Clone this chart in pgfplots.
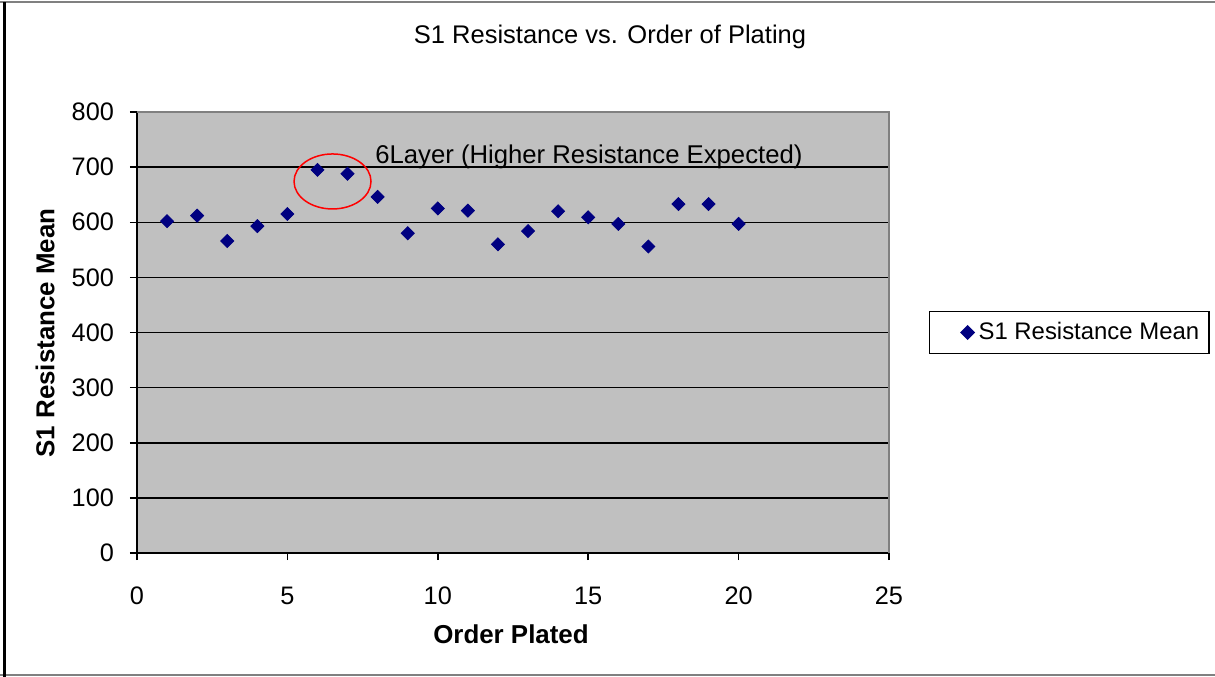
\documentclass[border=0pt]{standalone}
\usepackage{pgfplots}
\pgfplotsset{compat=1.18}
\usepackage{fontspec}
\setmainfont{Liberation Sans}
\definecolor{navy}{RGB}{0,0,128}
\definecolor{plotgray}{RGB}{192,192,192}
\definecolor{edgegray}{RGB}{128,128,128}
\begin{document}
\begin{tikzpicture}
\path[use as bounding box] (0,0) rectangle (607.5bp,-338.5bp);
\draw[edgegray,line width=1bp] (0,-1bp) -- (607.5bp,-1bp);
\draw[edgegray,line width=1bp] (0,-337.5bp) -- (607.5bp,-337.5bp);
\draw[black,line width=1.5bp] (2bp,-1bp) -- (2bp,-338.5bp);
\node[font=\fontsize{12.8}{14}\selectfont] at (305bp,-18.5bp) {S1 Resistance vs. Order of Plating};
\node[font=\fontsize{13}{14}\selectfont\bfseries,rotate=90] at (22.5bp,-166.5bp) {S1 Resistance Mean};
\node[font=\fontsize{13}{14}\selectfont\bfseries] at (255.5bp,-317bp) {Order Plated};
\begin{axis}[
  at={(68.5bp,-276.5bp)}, anchor=south west,
  scale only axis, width=376bp, height=220.5bp,
  xmin=0, xmax=25, ymin=0, ymax=800,
  xtick={0,5,...,25}, ytick={0,100,...,800},
  axis background/.style={fill=plotgray},
  axis x line*=bottom, axis y line*=left,
  axis line style={black, line width=0.75bp},
  ymajorgrids, grid style={black, line width=0.75bp},
  tick align=outside, major tick length=3.5bp,
  tick style={black, line width=0.75bp},
  x tick label style={yshift=-10bp},
  y tick label style={xshift=-4.5bp},
  ticklabel style={font=\fontsize{12.7}{14}\selectfont},
  /pgf/number format/assume math mode=true,
  legend style={at={(rel axis cs:1.053,0.5)}, anchor=west, draw=black, line width=0.75bp,
    font=\fontsize{12}{14}\selectfont, inner xsep=3bp, inner ysep=3.5bp, fill=white},
  legend image code/.code={\path[draw=none] (-16bp,0) -- (3.5bp,0);
    \path[draw=none, mark=square*, mark size=2.3bp, mark options={rotate=45,fill=navy,draw=navy}] plot coordinates {(0bp,0bp)};},
  clip=false,
]
\draw[edgegray, line width=0.75bp] (rel axis cs:0,1) -- (rel axis cs:1,1) -- (rel axis cs:1,0);
\addplot[only marks, mark=square*, mark size=2.3bp, mark options={rotate=45, fill=navy, draw=navy}] coordinates {
(1,602) (2,612) (3,566) (4,593) (5,615) (6,695) (7,688) (8,646) (9,580) (10,625)
(11,621) (12,560) (13,584) (14,620) (15,609) (16,597) (17,556) (18,633) (19,633) (20,597)
};
\addlegendentry{S1 Resistance Mean}
\node[anchor=west, inner sep=0pt, font=\fontsize{12.9}{14}\selectfont] at (axis cs:7.91,719) {6Layer (Higher Resistance Expected)};
\draw[red, line width=0.75bp] (axis cs:6.5,674) ellipse [x radius=19.25bp, y radius=13.75bp];
\end{axis}
\end{tikzpicture}
\end{document}
